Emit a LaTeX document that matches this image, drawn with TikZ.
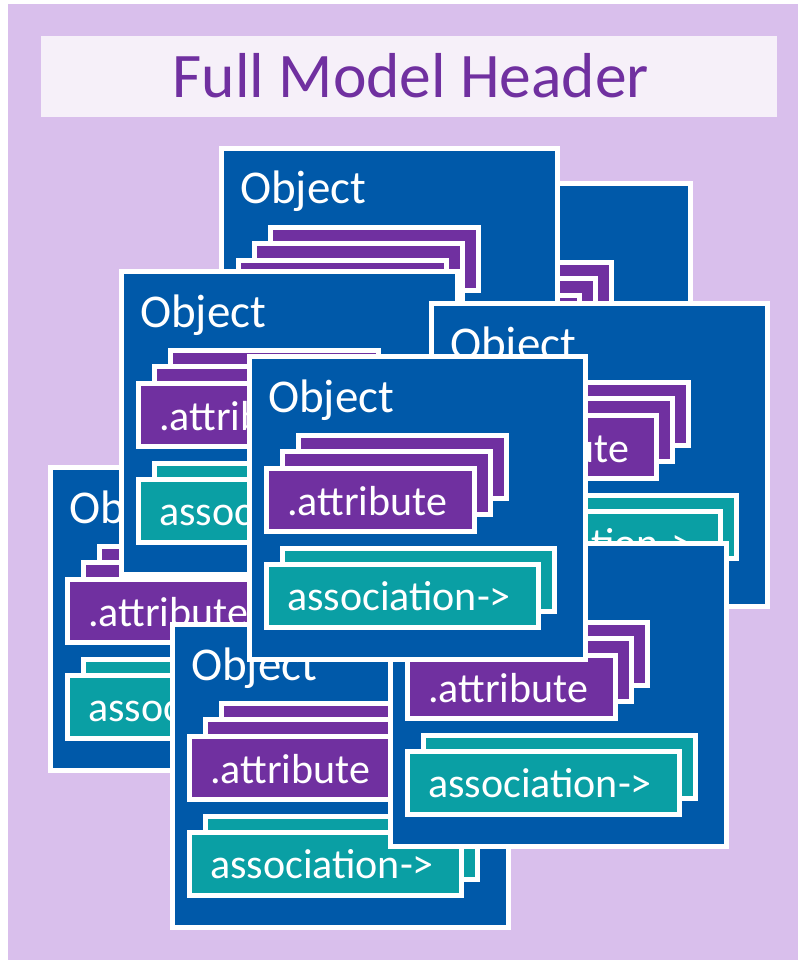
\documentclass[tikz,border=0pt]{standalone}
\usepackage{fontspec}
\setmainfont{Carlito}
\definecolor{lav}{HTML}{D9BFEC}
\definecolor{hdrbg}{HTML}{F6F0F9}
\definecolor{pp}{HTML}{7030A0}
\definecolor{cardblue}{HTML}{0059A9}
\definecolor{tealc}{HTML}{0A9FA4}
\tikzset{
  box/.style={draw=white, line width=5pt, anchor=north west, inner sep=0pt, outer sep=0pt},
  cardbox/.style={box, fill=cardblue, minimum width=336pt, minimum height=303pt},
  attrbox/.style={box, fill=pp, minimum width=208pt, minimum height=63pt},
  assocbox/.style={box, fill=tealc, minimum width=272pt, minimum height=63pt},
  lbl/.style={text=white, anchor=base west, inner sep=0pt, font=\fontsize{42}{42}\selectfont},
  objlbl/.style={lbl, font=\fontsize{47}{47}\selectfont},
}
\newcommand\objcard[3]{%
  \begin{scope}[shift={(#2,#3)}]
    \node[cardbox] (#1) at (2.5,2.5) {};
    \node[objlbl] (#1-obj) at (21,58) {Object};
    \node[attrbox] (#1-a3) at (51.5,81.5) {};
    \node[attrbox] (#1-a2) at (35.5,97.5) {};
    \node[attrbox] (#1-a1) at (19.5,114.5) {};
    \node[lbl] (#1-at) at (40,161) {.attribute};
    \node[assocbox] (#1-s2) at (35.5,194.5) {};
    \node[assocbox] (#1-s1) at (19.5,210.5) {};
    \node[lbl] (#1-st) at (40,256) {association->};
  \end{scope}}
\begin{document}
\begin{tikzpicture}[x=1pt,y=-1pt]
  \useasboundingbox (0,0) rectangle (798,960);
  \fill[white] (0,0) rectangle (798,960);
  \node[fill=lav, anchor=north west, inner sep=0pt, outer sep=0pt, minimum width=790pt, minimum height=956pt] (bg) at (8,4) {};
  \node[fill=hdrbg, anchor=north west, inner sep=0pt, outer sep=0pt, minimum width=736pt, minimum height=81pt] (hdr) at (41,36) {};
  \node[text=pp, anchor=base, inner sep=0pt, font=\fontsize{63.5}{64}\selectfont] (hdrtxt) at (411,98) {Full Model Header};
  \objcard{B}{352}{181}
  \objcard{T}{219}{146}
  \objcard{FL}{48}{465}
  \objcard{L}{119}{269}
  \objcard{R}{429}{301}
  \objcard{BL}{170}{622}
  \objcard{BR}{388}{541}
  \objcard{C}{247}{354}
\end{tikzpicture}
\end{document}
